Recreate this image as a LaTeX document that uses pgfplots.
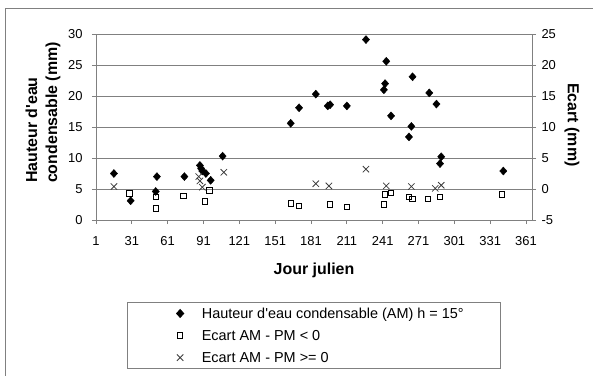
\documentclass[border=0pt]{standalone}
\usepackage{pgfplots}
\pgfplotsset{compat=1.18}
\usepackage{fontspec}
\setmainfont{Liberation Sans}
\definecolor{axgray}{RGB}{128,128,128}
\definecolor{xgray}{RGB}{60,60,60}
\pgfplotsset{
  mylegimg/.style={legend image code/.code={%
    \path[draw=none,fill=none] (-53bp,0bp) -- (21.7bp,0bp);
    \draw[mark repeat=1,mark phase=1,##1] plot coordinates {(0bp,0bp)};}},
  diastyle/.style={only marks, mark=diamond*, mark size=4bp, mark options={black, fill=black, xscale=1.2}, mylegimg},
  sqstyle/.style={only marks, mark=square, mark size=2.7bp, mark options={black, line width=0.8bp}, mylegimg},
  xstyle/.style={only marks, mark=x, mark size=4.5bp, mark options={xgray, line width=0.8bp}, mylegimg},
}
\newcommand{\legtxt}[1]{\makebox[299bp][l]{\rule[-4bp]{0pt}{15bp}#1}}
\begin{document}
\begin{tikzpicture}
\draw[axgray, line width=1bp] (5bp,-20bp) -- (5bp,367bp) -- (620bp,367bp);
\begin{axis}[
  at={(96bp,156bp)}, anchor=south west,
  scale only axis, width=436bp, height=186bp,
  xmin=1, xmax=366, ymin=0, ymax=30,
  xtick={1,31,...,361}, ytick={0,5,...,30},
  axis x line*=bottom, axis y line*=left,
  axis line style={axgray, line width=0.8bp},
  tick style={axgray, line width=0.8bp},
  major tick length=4bp, tick align=outside,
  ymajorgrids, grid style={axgray, line width=0.8bp},
  tick label style={font=\fontsize{13}{15}\selectfont, text=black},
  xticklabel style={yshift=-9bp},
  yticklabel style={xshift=-6bp},
  /pgf/number format/assume math mode=true,
  xlabel={Jour julien},
  ylabel={Hauteur d\textquotesingle eau\\condensable (mm)},
  every axis x label/.style={at={(axis description cs:0.5,-0.269)}, anchor=center, font=\bfseries\fontsize{16}{20}\selectfont},
  every axis y label/.style={at={(axis description cs:-0.1216,0.578)}, anchor=center, rotate=90, align=left, font=\bfseries\fontsize{16}{20}\selectfont},
  legend style={at={(axis description cs:0.5,-0.441)}, anchor=north, draw=axgray, line width=0.8bp,
    font=\fontsize{14.5}{17}\selectfont, inner xsep=0pt, inner ysep=0pt, row sep=0pt,
    nodes={inner xsep=0pt, inner ysep=4.8bp}},
  legend cell align=left,
  clip=false,
]
\addplot[diastyle] coordinates {
(16,7.5) (30,3.1) (51,4.6) (52,7.0) (75,7.0) (88,8.8) (89,8.3) (90,7.9) (93,7.5) (97,6.4)
(107,10.3) (164,15.6) (171,18.1) (185,20.3) (195,18.4) (197,18.6) (211,18.4) (227,29.1)
(242,21.0) (243,22.0) (244,25.6) (248,16.8) (263,13.4) (265,15.1) (266,23.1) (280,20.5)
(286,18.7) (289,9.1) (290,10.2) (342,7.9)
};
\addlegendentry{\legtxt{Hauteur d\textquotesingle eau condensable (AM) h = 15°}}
\addlegendimage{sqstyle}
\addlegendentry{\legtxt{Ecart AM - PM < 0}}
\addlegendimage{xstyle}
\addlegendentry{\legtxt{Ecart AM - PM >= 0}}
\end{axis}
\begin{axis}[
  at={(96bp,156bp)}, anchor=south west,
  scale only axis, width=436bp, height=186bp,
  xmin=1, xmax=366, ymin=-5, ymax=25,
  ytick={-5,0,...,25},
  axis y line*=right, axis x line=none,
  axis line style={axgray, line width=0.8bp},
  tick style={axgray, line width=0.8bp},
  major tick length=4bp, tick align=outside,
  tick label style={font=\fontsize{13}{15}\selectfont, text=black},
  yticklabel style={xshift=2bp},
  /pgf/number format/assume math mode=true,
  ylabel={Ecart (mm)},
  every axis y label/.style={at={(axis description cs:1.0917,0.511)}, anchor=center, rotate=-90, font=\bfseries\fontsize{16}{20}\selectfont},
  clip=false,
]
\addplot[sqstyle] coordinates {
(29,-0.7) (51,-1.3) (51,-3.1) (74,-1.1) (92,-2.0) (96,-0.2) (164,-2.3) (171,-2.7)
(197,-2.5) (211,-2.85) (242,-2.5) (243,-0.9) (248,-0.65) (263,-1.25) (266,-1.6)
(279,-1.6) (289,-1.3) (341,-0.9)
};
\addplot[xstyle] coordinates {
(16,0.4) (87,2.0) (88,1.3) (90,0.3) (108,2.7) (185,0.85) (196,0.5) (227,3.2)
(244,0.5) (265,0.4) (285,0.1) (290,0.6)
};
\end{axis}
\pgfresetboundingbox
\useasboundingbox (0,0) rectangle (593bp,376bp);
\end{tikzpicture}
\end{document}
